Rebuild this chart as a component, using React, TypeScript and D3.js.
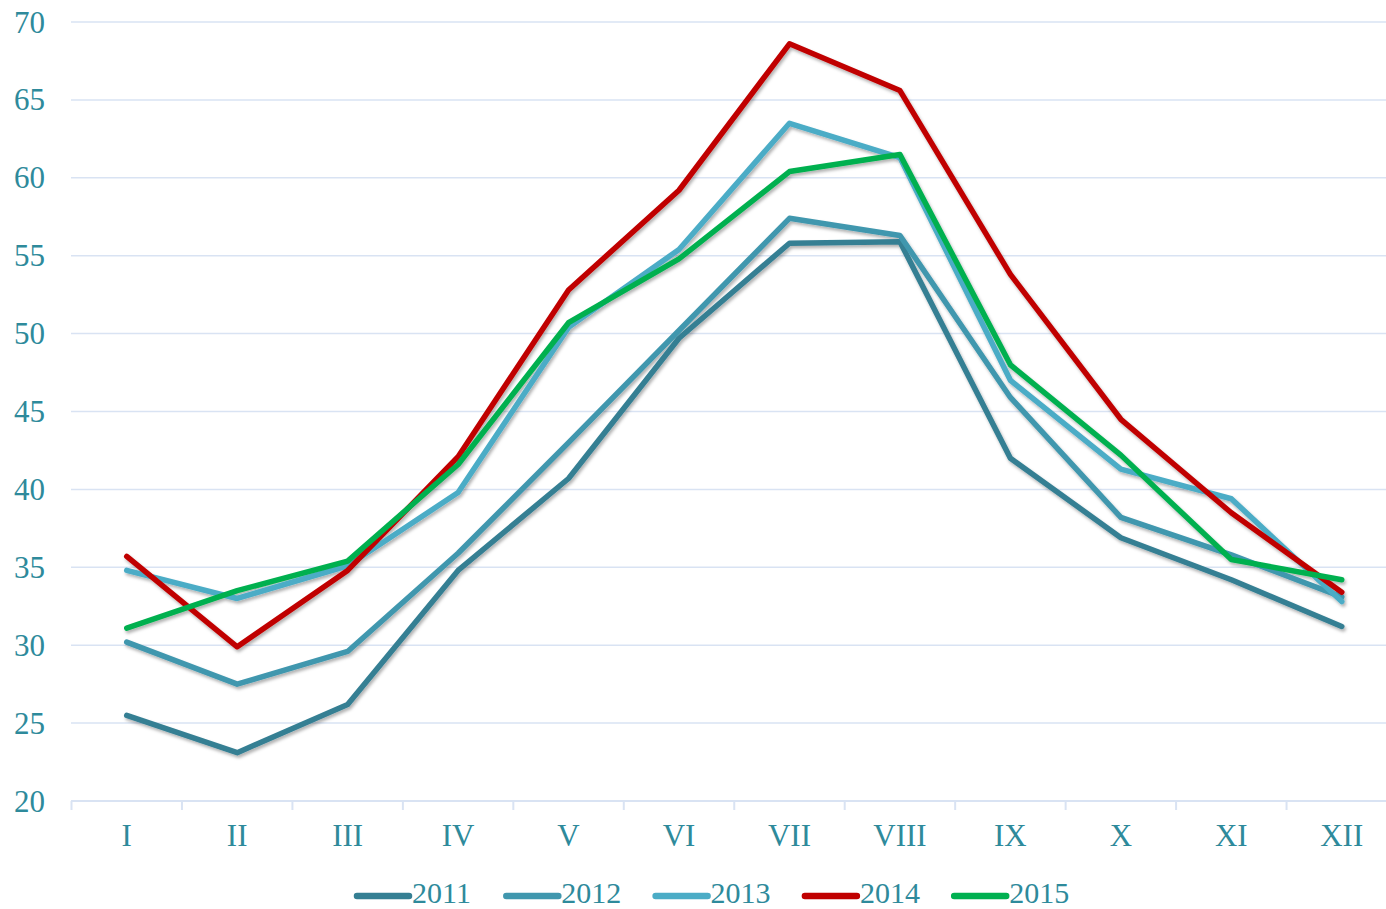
import React from "react";
import * as d3 from "d3";

const months = ["I", "II", "III", "IV", "V", "VI", "VII", "VIII", "IX", "X", "XI", "XII"];
const yTicks = [20, 25, 30, 35, 40, 45, 50, 55, 60, 65, 70];

const s2011 = [25.5, 23.1, 26.2, 34.8, 40.7, 49.7, 55.8, 55.9, 42.0, 36.9, 34.2, 31.2];
const s2012 = [30.2, 27.5, 29.6, 35.9, 43.0, 50.2, 57.4, 56.3, 45.9, 38.2, 35.8, 33.1];
const s2013 = [34.8, 33.0, 35.1, 39.8, 50.4, 55.4, 63.5, 61.3, 47.0, 41.3, 39.4, 32.8];
const s2014 = [35.7, 29.9, 34.8, 42.1, 52.8, 59.2, 68.6, 65.6, 53.8, 44.5, 38.5, 33.4];
const s2015 = [31.1, 33.5, 35.4, 41.6, 50.7, 54.8, 60.4, 61.5, 48.0, 42.2, 35.5, 34.2];

const seriesNames = ["2011", "2012", "2013", "2014", "2015"];
const seriesColors = ["#357F93", "#4097AE", "#4BACC6", "#C00000", "#00B050"];
const seriesValues = [s2011, s2012, s2013, s2014, s2015];

const W = 1386;
const H = 909;
const textColor = "#2E8A9B";
const gridColor = "#D9E3F3";
const font = "'Liberation Serif', 'Times New Roman', serif";

export default function App() {
  const x = d3.scaleBand<string>().domain(months).range([71.5, 1397]);
  const y = d3.scaleLinear().domain([20, 70]).range([801, 22]);
  const line = d3
    .line<number>()
    .x((_, i) => (x(months[i]) as number) + x.bandwidth() / 2)
    .y((d) => y(d));

  const boundaries = months.map((m) => x(m) as number).concat([x.range()[1]]);

  return (
    <svg
      width={W}
      height={H}
      style={{ position: "absolute", left: 0, top: 0, background: "#fff" }}
      fontFamily={font}
    >
      <defs>
        <filter id="shadow" x="-10%" y="-10%" width="120%" height="130%">
          <feDropShadow dx="1.5" dy="2.5" stdDeviation="1.8" floodColor="#000" floodOpacity="0.3" />
        </filter>
      </defs>
      {yTicks.map((t) => (
        <g key={t}>
          {t !== 20 && (
            <line x1={71} x2={W} y1={y(t)} y2={y(t)} stroke={gridColor} strokeWidth={1.5} />
          )}
          <text
            x={45}
            y={y(t)}
            dy="0.34em"
            textAnchor="end"
            fontSize={31}
            fill={textColor}
          >
            {t}
          </text>
        </g>
      ))}
      <line x1={71} x2={W} y1={y(20)} y2={y(20)} stroke={gridColor} strokeWidth={2} />
      {boundaries.map((b, i) => (
        <line key={i} x1={b} x2={b} y1={y(20)} y2={y(20) + 9} stroke={gridColor} strokeWidth={2} />
      ))}
      {months.map((m) => (
        <text
          key={m}
          x={(x(m) as number) + x.bandwidth() / 2}
          y={846}
          textAnchor="middle"
          fontSize={31}
          fill={textColor}
        >
          {m}
        </text>
      ))}
      <g filter="url(#shadow)">
        {seriesValues.map((vals, i) => (
          <path
            key={seriesNames[i]}
            d={line(vals) as string}
            fill="none"
            stroke={seriesColors[i]}
            strokeWidth={5.5}
            strokeLinejoin="round"
            strokeLinecap="round"
          />
        ))}
      </g>
      {seriesNames.map((n, i) => {
        const x0 = 357 + i * 149.3;
        return (
          <g key={n}>
            <line
              x1={x0}
              x2={x0 + 52}
              y1={896}
              y2={896}
              stroke={seriesColors[i]}
              strokeWidth={6.5}
              strokeLinecap="round"
            />
            <text x={x0 + 55} y={903} fontSize={30} fill={textColor}>
              {n}
            </text>
          </g>
        );
      })}
    </svg>
  );
}
